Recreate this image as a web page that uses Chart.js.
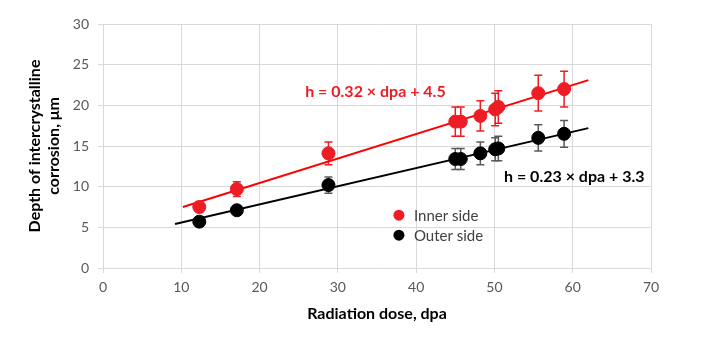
<!DOCTYPE html>
<html>
<head>
<meta charset="utf-8">
<script src="https://cdn.jsdelivr.net/npm/chart.js@4.4.0/dist/chart.umd.min.js"></script>
<style>
  html, body { margin: 0; padding: 0; background: #fff; }
  #wrap { width: 710px; height: 342px; }
</style>
</head>
<body>
<div id="wrap"><canvas id="chart" width="710" height="342"></canvas></div>
<script>
// --- data ---
const dose = [12.3, 17.1, 28.8, 45.0, 45.7, 48.2, 50.1, 50.5, 55.6, 58.9];
const innerDepth = [7.5, 9.7, 14.1, 18.0, 18.0, 18.7, 19.5, 19.8, 21.5, 22.0];
const innerErr = [0.6, 0.9, 1.4, 1.8, 1.8, 1.85, 2.0, 2.0, 2.2, 2.2];
const outerDepth = [5.7, 7.1, 10.2, 13.4, 13.4, 14.1, 14.6, 14.7, 16.0, 16.5];
const outerErr = [0.4, 0.5, 1.0, 1.3, 1.3, 1.4, 1.4, 1.5, 1.6, 1.65];

// trend line end points
const innerFitX = [10.2, 62.0];
const innerFitY = [7.5, 23.1];
const outerFitX = [9.2, 62.0];
const outerFitY = [5.4, 17.2];

const seriesNames = ['Inner side', 'Outer side'];
const fitLabels = ['h = 0.32 × dpa + 4.5', 'h = 0.23 × dpa + 3.3'];

const RED = '#ee1c24';
const FONT = 'Lato, "Open Sans", sans-serif';

function pts(xs, ys) {
    return xs.map((x, i) => ({ x: x, y: ys[i] }));
}

// error bars, equation text and legend drawn on the canvas
const extras = {
    id: 'extras',
    beforeDatasetsDraw(chart) {
        const ctx = chart.ctx;
        const xs = chart.scales.x, ys = chart.scales.y;
        const bars = [[innerDepth, innerErr, RED], [outerDepth, outerErr, '#595959']];
        ctx.save();
        ctx.lineWidth = 1.5;
        bars.forEach(([vals, errs, col]) => {
            ctx.strokeStyle = col;
            dose.forEach((d, i) => {
                const px = xs.getPixelForValue(d);
                const top = ys.getPixelForValue(vals[i] + errs[i]);
                const bot = ys.getPixelForValue(vals[i] - errs[i]);
                ctx.beginPath();
                ctx.moveTo(px, top); ctx.lineTo(px, bot);
                ctx.moveTo(px - 4, top); ctx.lineTo(px + 4, top);
                ctx.moveTo(px - 4, bot); ctx.lineTo(px + 4, bot);
                ctx.stroke();
            });
        });
        ctx.restore();
    },
    afterDatasetsDraw(chart) {
        const ctx = chart.ctx;
        const xs = chart.scales.x, ys = chart.scales.y;
        ctx.save();
        ctx.font = 'bold 16px ' + FONT;
        ctx.textAlign = 'center';
        ctx.textBaseline = 'middle';
        ctx.fillStyle = RED;
        ctx.fillText(fitLabels[0], xs.getPixelForValue(34.8), ys.getPixelForValue(21.6));
        ctx.fillStyle = '#000';
        ctx.fillText(fitLabels[1], xs.getPixelForValue(60.2), ys.getPixelForValue(11.2));

        // legend
        const lx = xs.getPixelForValue(37.8);
        const ly = ys.getPixelForValue(6.5);
        const cols = [RED, '#000'];
        ctx.font = '15px ' + FONT;
        ctx.textAlign = 'left';
        seriesNames.forEach((name, i) => {
            const y = ly + i * 20;
            ctx.fillStyle = cols[i];
            ctx.beginPath();
            ctx.arc(lx, y, 5.5, 0, Math.PI * 2);
            ctx.fill();
            ctx.fillStyle = '#404040';
            ctx.fillText(name, lx + 15, y + 1);
        });
        ctx.restore();
    }
};

new Chart(document.getElementById('chart'), {
    type: 'scatter',
    data: {
        datasets: [{
            label: seriesNames[0],
            data: pts(dose, innerDepth),
            backgroundColor: RED, borderColor: RED,
            pointRadius: 6.5, pointHoverRadius: 6.5, order: 1
        }, {
            label: seriesNames[1],
            data: pts(dose, outerDepth),
            backgroundColor: '#000', borderColor: '#000',
            pointRadius: 6.5, pointHoverRadius: 6.5, order: 1
        }, {
            type: 'line', label: 'fit inner',
            data: pts(innerFitX, innerFitY),
            borderColor: '#ff0000', borderWidth: 2, pointRadius: 0, fill: false, order: 3
        }, {
            type: 'line', label: 'fit outer',
            data: pts(outerFitX, outerFitY),
            borderColor: '#000', borderWidth: 2, pointRadius: 0, fill: false, order: 3
        }]
    },
    options: {
        responsive: false,
        animation: false,
        layout: { padding: { left: 0, right: 59, top: 24, bottom: 0 } },
        plugins: { legend: { display: false }, tooltip: { enabled: false } },
        scales: {
            x: {
                type: 'linear', min: 0, max: 70,
                afterFit(s) { s.height = 74; },
                ticks: { stepSize: 10, color: '#595959', font: { size: 14, family: FONT }, padding: 6 },
                grid: { color: '#d9d9d9', tickLength: 5 },
                border: { color: '#d9d9d9' },
                title: {
                    display: true, text: 'Radiation dose, dpa', color: '#000',
                    font: { size: 16, weight: 'bold', family: FONT }, padding: { top: 6, bottom: 19 }
                }
            },
            y: {
                min: 0, max: 30,
                afterFit(s) { s.width = 103; },
                ticks: { stepSize: 5, color: '#595959', font: { size: 14, family: FONT }, padding: 9 },
                grid: { color: '#d9d9d9', tickLength: 5 },
                border: { color: '#d9d9d9' },
                title: {
                    display: true, text: ['Depth of intercrystalline', 'corrosion, μm'], color: '#000',
                    font: { size: 16, weight: 'bold', family: FONT, lineHeight: 1.15 }, padding: { top: 26 }
                }
            }
        }
    },
    plugins: [extras]
});
</script>
</body>
</html>
